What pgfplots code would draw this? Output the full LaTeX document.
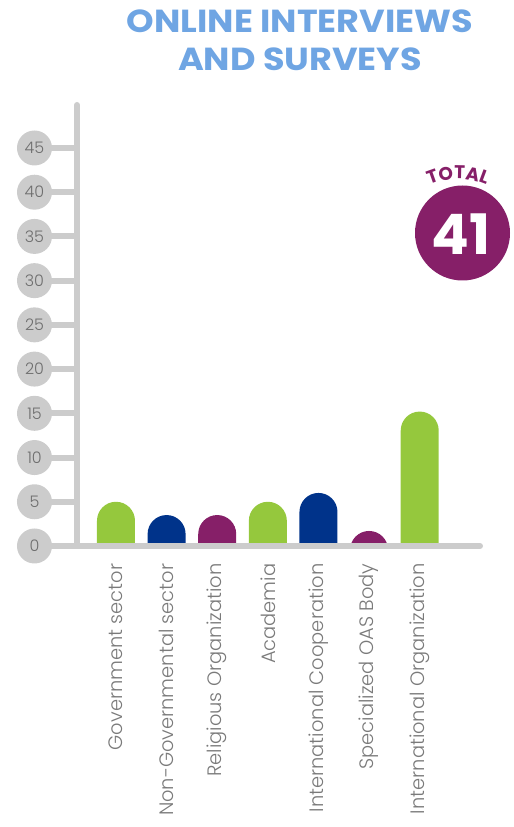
\documentclass[border=0pt]{standalone}
\usepackage{fontspec}
\setmainfont{Poppins}
\IfFontExistsTF{Poppins Light}{\newfontfamily\lightfont{Poppins Light}}{\newfontfamily\lightfont{Poppins}}
\usepackage{pgfplots}
\usepackage{pgfplotstable}
\pgfplotsset{compat=1.18}
\usetikzlibrary{decorations.text}
\definecolor{cgreen}{HTML}{95C83D}
\definecolor{cnavy}{HTML}{00338A}
\definecolor{cpurple}{HTML}{861F68}
\definecolor{ctitle}{HTML}{6FA5E3}
\definecolor{caxis}{HTML}{CCCCCC}
\definecolor{ctick}{HTML}{6E6E6E}
\definecolor{clabel}{HTML}{7A7A7A}

% rounded-top bar: the mark point is the top of the bar
\pgfdeclareplotmark{dome}{%
  \pgfpathmoveto{\pgfpoint{19bp}{-19bp}}%
  \pgfpatharc{0}{180}{19bp}%
  \pgfpathlineto{\pgfpoint{-19bp}{-600bp}}%
  \pgfpathlineto{\pgfpoint{19bp}{-600bp}}%
  \pgfpathclose
  \pgfusepathqfill}

\pgfplotstableread{
x y
0 5
3 5
6 15.2
}\greendata
\pgfplotstableread{
x y
1 3.5
4 6
}\navydata
\pgfplotstableread{
x y
2 3.5
5 1.7
}\purpledata

\begin{document}
\begin{tikzpicture}[x=1bp,y=1bp]
\begin{axis}[
  at={(77bp,281bp)}, anchor=south west,
  scale only axis, width=403bp, height=441bp,
  xmin=-0.770, xmax=7.191, ymin=0, ymax=49.86,
  axis lines=left,
  axis line style={line width=6bp, color=caxis, line cap=round, -},
  axis on top,
  clip mode=individual,
  clip marker paths=true,
  ytick={0,5,...,45},
  xtick={0,...,6},
  xticklabels={Government sector,Non-Governmental sector,Religious Organization,Academia,International Cooperation,Specialized OAS Body,International Organization},
  tick align=outside,
  major tick length=42.5bp,
  ytick style={line width=6bp, color=caxis},
  xtick style={draw=none},
  /pgf/number format/assume math mode=true,
  yticklabel style={circle, fill=caxis, minimum size=35bp, inner sep=0pt, anchor=center, text=ctick, font=\lightfont\fontsize{16}{16}\selectfont},
  xticklabel style={rotate=90, anchor=east, inner sep=0pt, text=clabel, font=\lightfont\fontsize{19.5}{19.5}\selectfont, xshift=25bp},
]
\addplot[only marks, mark=dome, color=cgreen] table {\greendata};
\addplot[only marks, mark=dome, color=cnavy] table {\navydata};
\addplot[only marks, mark=dome, color=cpurple] table {\purpledata};
\end{axis}
% title
\node[anchor=base, text=ctitle, font=\fontsize{32}{32}\selectfont\bfseries\addfontfeature{FakeStretch=1.1}] at (300,794) {ONLINE INTERVIEWS};
\node[anchor=base, text=ctitle, font=\fontsize{32}{32}\selectfont\bfseries\addfontfeature{FakeStretch=1.1}] at (300,756) {AND SURVEYS};
% total badge
\fill[cpurple] (462.5,594) circle[radius=47.5];
\node[anchor=base, text=white, font=\fontsize{56}{56}\selectfont\bfseries] at (461,572) {41};
\path[decorate, decoration={text along path, text={|\color{cpurple}\fontsize{18.5}{18.5}\selectfont\bfseries\addfontfeature{LetterSpace=6}|TOTAL}, text align=center}]
  (458,578) ++(125:70) arc[start angle=125, end angle=55, radius=70];
\pgfresetboundingbox
\useasboundingbox (0,0) rectangle (514,827);
\end{tikzpicture}
\end{document}
